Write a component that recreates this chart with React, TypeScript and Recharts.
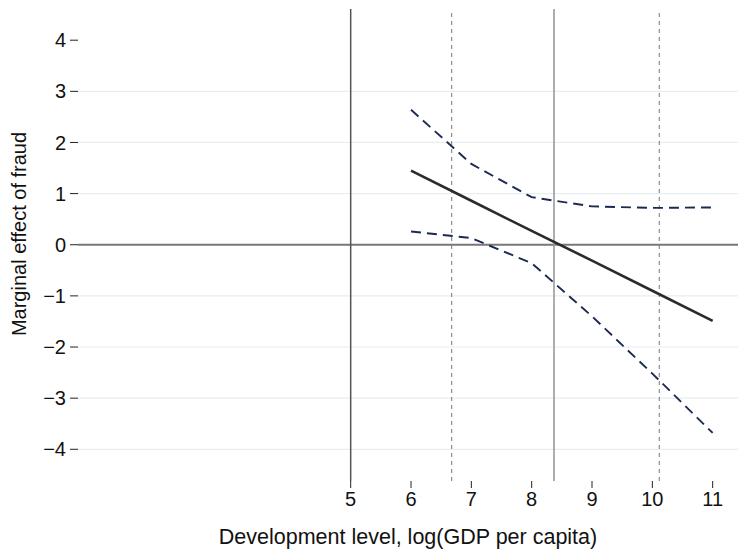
import { CartesianGrid, ComposedChart, Label, Line, ReferenceLine, XAxis, YAxis } from "recharts";

const FONT = "'Liberation Sans', Arial, sans-serif";

// log(GDP per capita) grid where the marginal effect was evaluated
const gdpLevels = [6, 7, 8, 9, 10, 11];
const marginalEffect = [1.45, 0.86, 0.27, -0.31, -0.9, -1.49];
const upperBound = [2.64, 1.58, 0.93, 0.75, 0.72, 0.73];
const lowerBound = [0.26, 0.13, -0.36, -1.4, -2.52, -3.68];

const xTicks = [5, 6, 7, 8, 9, 10, 11];
const yTicks = [-4, -3, -2, -1, 0, 1, 2, 3, 4];
const gridValues = [-4, -3, -2, -1, 1, 2, 3];

// vertical markers: lower bound of range, mean, +/- sd
const rangeLine = 5;
const meanLine = 8.37;
const sdLines = [6.674, 10.115];

const data = gdpLevels.map((x, i) => ({
  x,
  effect: marginalEffect[i],
  upper: upperBound[i],
  lower: lowerBound[i],
}));

const fmt = (v: number) => (v < 0 ? `\u2212${Math.abs(v)}` : `${v}`);

function YTitle({ viewBox }: any) {
  const cx = 19;
  const cy = viewBox.y + viewBox.height / 2 - 11;
  return (
    <text
      x={cx}
      y={cy}
      transform={`rotate(-90, ${cx}, ${cy})`}
      textAnchor="middle"
      dominantBaseline="central"
      fontFamily={FONT}
      fontSize={20}
      fill="#111"
    >
      Marginal effect of fraud
    </text>
  );
}

export default function App() {
  return (
    <div style={{ position: "absolute", left: 0, top: 0, width: 738, height: 550, background: "#fff" }}>
      <ComposedChart width={738} height={550} data={data} margin={{ top: 9, right: 0, bottom: 0, left: 0 }}>
        <CartesianGrid vertical={false} horizontalValues={gridValues} stroke="#e6eef1" strokeWidth={1.2} />
        <XAxis
          type="number"
          dataKey="x"
          domain={[0.48, 11.42]}
          allowDataOverflow
          ticks={xTicks}
          height={69}
          axisLine={false}
          tickLine={{ stroke: "#222", strokeWidth: 1 }}
          tickSize={7}
          tickMargin={4}
          tick={{ fontFamily: FONT, fontSize: 20, fill: "#111" }}
        >
          <Label
            value="Development level, log(GDP per capita)"
            position="insideBottom"
            offset={6}
            style={{ fontFamily: FONT, fontSize: 21.5, fill: "#111" }}
          />
        </XAxis>
        <YAxis
          type="number"
          domain={[-4.62, 4.61]}
          allowDataOverflow
          ticks={yTicks}
          width={78}
          axisLine={false}
          tickLine={{ stroke: "#222", strokeWidth: 1 }}
          tickSize={8}
          tickMargin={4}
          tickFormatter={fmt}
          tick={{ fontFamily: FONT, fontSize: 20, fill: "#111" }}
        >
          <Label content={<YTitle />} />
        </YAxis>
        <ReferenceLine y={0} stroke="#777" strokeWidth={1.8} />
        <ReferenceLine x={rangeLine} stroke="#555" strokeWidth={1.5} />
        <ReferenceLine x={meanLine} stroke="#999" strokeWidth={1.6} />
        {sdLines.map((v) => (
          <ReferenceLine key={v} x={v} stroke="#777" strokeWidth={1} strokeDasharray="4 4" />
        ))}
        <Line
          type="linear"
          dataKey="upper"
          stroke="#1c2a52"
          strokeWidth={1.9}
          strokeDasharray="10 6"
          dot={false}
          isAnimationActive={false}
        />
        <Line
          type="linear"
          dataKey="lower"
          stroke="#1c2a52"
          strokeWidth={1.9}
          strokeDasharray="10 6"
          dot={false}
          isAnimationActive={false}
        />
        <Line
          type="linear"
          dataKey="effect"
          stroke="#2b2b2b"
          strokeWidth={2.6}
          dot={false}
          isAnimationActive={false}
        />
      </ComposedChart>
    </div>
  );
}
